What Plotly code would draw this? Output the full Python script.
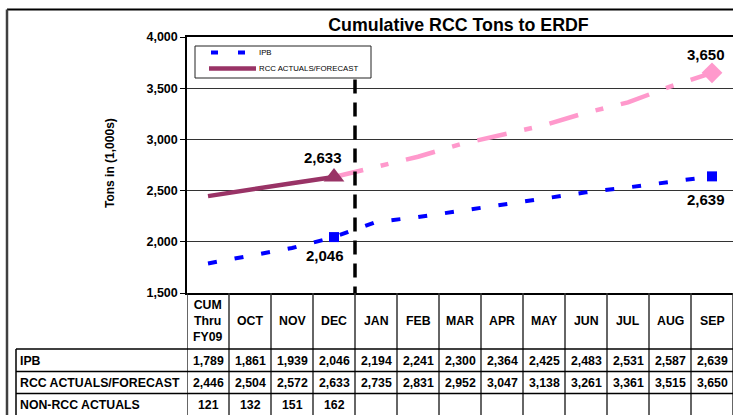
import plotly.graph_objects as go

categories = ["CUM<br>Thru<br>FY09", "OCT", "NOV", "DEC", "JAN", "FEB", "MAR",
              "APR", "MAY", "JUN", "JUL", "AUG", "SEP"]
ipb = [1789, 1861, 1939, 2046, 2194, 2241, 2300, 2364, 2425, 2483, 2531, 2587, 2639]
rcc = [2446, 2504, 2572, 2633, 2735, 2831, 2952, 3047, 3138, 3261, 3361, 3515, 3650]
non_rcc = [121, 132, 151, 162]
row_labels = ["IPB", "RCC ACTUALS/FORECAST", "NON-RCC ACTUALS"]
series_names = ["IPB", "RCC ACTUALS/FORECAST"]
actual_end = 3  # index of DEC (last actual month)

FONT = "Liberation Sans, Arial, sans-serif"
BLUE = "#0000FF"
PURPLE = "#993366"
PINK = "#FF99CC"

W, H = 733, 415
ML, MR, MT, MB = 187, 0, 37, 122
PW, PH = W - ML - MR, H - MT - MB
n = len(categories)
xs = list(range(n))


def py(p):  # pixel row -> paper y
    return (H - MB - p) / PH


def px(p):  # pixel column -> paper x
    return (p - ML) / PW


fig = go.Figure()

fig.add_trace(go.Scatter(
    x=xs, y=ipb, mode="lines", name=series_names[0], showlegend=False,
    line=dict(color=BLUE, width=4, dash="9px,18px")))
fig.add_trace(go.Scatter(
    x=xs[:actual_end + 1], y=rcc[:actual_end + 1], mode="lines",
    name=series_names[1], showlegend=False, line=dict(color=PURPLE, width=4.5)))
fig.add_trace(go.Scatter(
    x=xs[actual_end:], y=rcc[actual_end:], mode="lines", showlegend=False,
    line=dict(color=PINK, width=4.5, dash="30px,18px,8px,18px")))
fig.add_trace(go.Scatter(
    x=[xs[actual_end], xs[-1]], y=[ipb[actual_end], ipb[-1]], mode="markers",
    showlegend=False, marker=dict(symbol="square", size=10, color=BLUE)))
fig.add_trace(go.Scatter(
    x=[xs[actual_end]], y=[rcc[actual_end]], mode="markers", showlegend=False,
    marker=dict(symbol="triangle-up", size=18, color=PURPLE)))
fig.add_trace(go.Scatter(
    x=[xs[-1]], y=[rcc[-1]], mode="markers", showlegend=False,
    marker=dict(symbol="diamond", size=16, color=PINK)))

annotations = []
bold12 = dict(family=FONT, size=12.3, color="black", weight="bold")
lab15 = dict(family=FONT, size=15, color="black", weight="bold")

# data labels
for xv, yv, dx, dy in [(xs[actual_end], rcc[actual_end], -11, 19),
                       (xs[actual_end], ipb[actual_end], -9, -18),
                       (xs[-1], rcc[-1], -6, 18),
                       (xs[-1], ipb[-1], -6, -23)]:
    annotations.append(dict(x=xv, y=yv, xref="x", yref="y", text=f"{yv:,}",
                            showarrow=False, xshift=dx, yshift=dy, font=lab15,
                            xanchor="center", yanchor="middle"))

# table header + values
row_y = [py(360.5), py(382.5), py(404.5)]
for i, c in enumerate(categories):
    annotations.append(dict(x=i, y=py(321), xref="x", yref="paper", text=c,
                            showarrow=False, font=bold12, xanchor="center",
                            yanchor="middle"))
    annotations.append(dict(x=i, y=row_y[0], xref="x", yref="paper",
                            text=f"{ipb[i]:,}", showarrow=False, font=bold12,
                            xanchor="center", yanchor="middle"))
    annotations.append(dict(x=i, y=row_y[1], xref="x", yref="paper",
                            text=f"{rcc[i]:,}", showarrow=False, font=bold12,
                            xanchor="center", yanchor="middle"))
    if i < len(non_rcc):
        annotations.append(dict(x=i, y=row_y[2], xref="x", yref="paper",
                                text=f"{non_rcc[i]:,}", showarrow=False,
                                font=bold12, xanchor="center", yanchor="middle"))
for lab, yv in zip(row_labels, row_y):
    annotations.append(dict(x=px(18), y=yv, xref="paper", yref="paper", text=lab,
                            showarrow=False, xanchor="left", yanchor="middle",
                            font=bold12))

# y-axis title
annotations.append(dict(x=px(110), y=py(163), xref="paper", yref="paper",
                        text="Tons in (1,000s)", textangle=-90, showarrow=False,
                        xanchor="center", yanchor="middle",
                        font=dict(family=FONT, size=12, color="black", weight="bold")))

shapes = []
grid_col = "#333333"

# legend (drawn box with samples)
shapes.append(dict(type="rect", xref="paper", yref="paper", x0=px(195), x1=px(371),
                   y0=py(78), y1=py(46), line=dict(color="#222222", width=1),
                   fillcolor="white", layer="above"))
shapes.append(dict(type="line", xref="paper", yref="paper", x0=px(211), x1=px(250),
                   y0=py(52.5), y1=py(52.5), layer="above",
                   line=dict(color=BLUE, width=4, dash="7px,20px")))
shapes.append(dict(type="line", xref="paper", yref="paper", x0=px(209), x1=px(256),
                   y0=py(68.5), y1=py(68.5), layer="above",
                   line=dict(color=PURPLE, width=4.5)))
for name, yy in zip(series_names, [52.5, 68.5]):
    annotations.append(dict(x=px(257), y=py(yy), xref="paper", yref="paper",
                            text=name, showarrow=False, xanchor="left",
                            yanchor="middle",
                            font=dict(family=FONT, size=7.8, color="black")))

# table vertical lines
for i in range(n + 1):
    shapes.append(dict(type="line", xref="x", yref="paper", x0=i - 0.5, x1=i - 0.5,
                       y0=py(H + 2), y1=0, line=dict(color=grid_col, width=1.5)))
# table horizontal lines
for p in [349, 371.5, 393.5]:
    shapes.append(dict(type="line", xref="paper", yref="paper", x0=px(16), x1=1,
                       y0=py(p), y1=py(p), line=dict(color="black", width=1.5)))
shapes.append(dict(type="line", xref="paper", yref="paper", x0=px(16), x1=px(16),
                   y0=py(349), y1=py(H + 2), line=dict(color="black", width=1.5)))
# outer frame
shapes.append(dict(type="line", xref="paper", yref="paper", x0=px(7), x1=px(W + 2),
                   y0=py(9.5), y1=py(9.5), line=dict(color="black", width=2)))
shapes.append(dict(type="line", xref="paper", yref="paper", x0=px(7), x1=px(7),
                   y0=py(9.5), y1=py(H + 2), line=dict(color="#404040", width=2.5)))
# actual/forecast divider
shapes.append(dict(type="line", xref="x", yref="y", x0=actual_end + 0.5,
                   x1=actual_end + 0.5, y0=3585, y1=1500,
                   line=dict(color="black", width=3.5, dash="14px,9px")))

fig.update_layout(
    width=W, height=H,
    margin=dict(l=ML, r=MR, t=MT, b=MB),
    paper_bgcolor="white", plot_bgcolor="white",
    font=dict(family=FONT, color="black"),
    title=dict(text="Cumulative RCC Tons to ERDF", x=458.5 / W, xref="container",
               xanchor="center", y=1 - 24.5 / H, yanchor="middle",
               font=dict(family=FONT, size=17.8, color="black", weight="bold")),
    showlegend=False,
    xaxis=dict(range=[-0.5, n - 0.5], showticklabels=False, ticks="",
               showgrid=False, zeroline=False, showline=True, mirror=True,
               linecolor="black", linewidth=1.5, fixedrange=True),
    yaxis=dict(range=[1500, 4000], dtick=500, tickformat=",", ticks="outside",
               ticklen=5, tickcolor="black", showline=True, linecolor="black",
               linewidth=1.5, showgrid=True, gridcolor=grid_col, gridwidth=1,
               zeroline=False, tickfont=dict(family=FONT, size=12.5, color="black",
                                             weight="bold")),
    annotations=annotations,
    shapes=shapes,
)

fig.write_html("out.html",
               config={"displayModeBar": False},
               post_script="document.body.style.margin='0px';"
                           "document.body.style.overflow='hidden';")
